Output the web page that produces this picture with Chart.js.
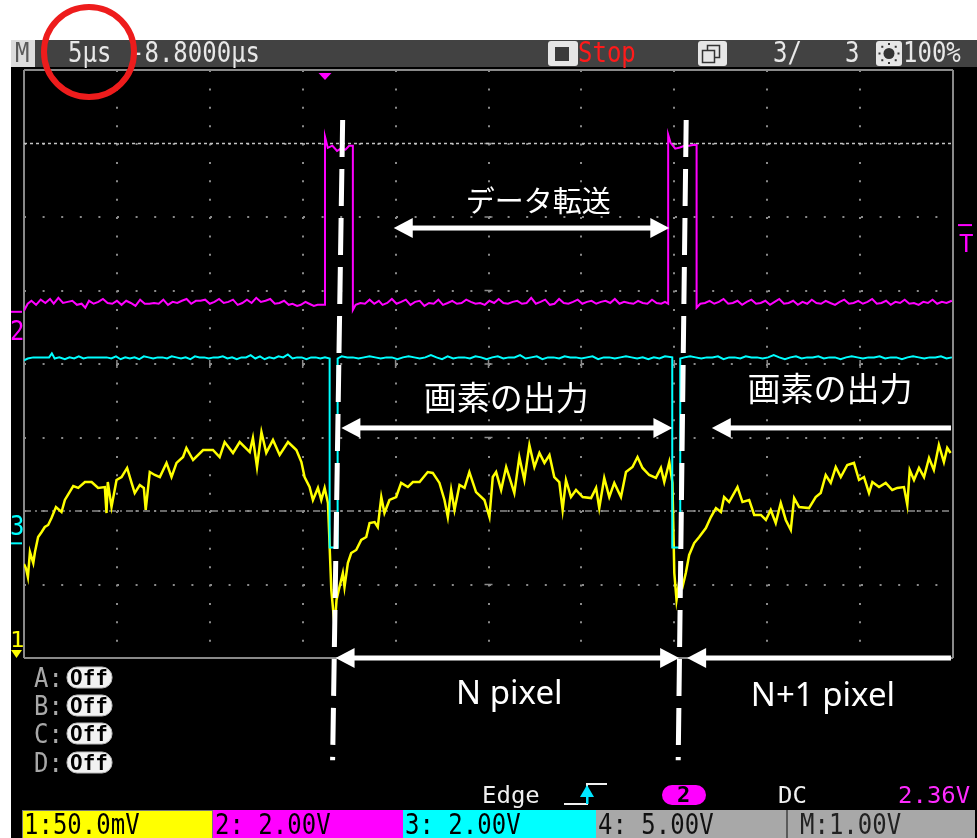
<!DOCTYPE html>
<html>
<head>
<meta charset="utf-8">
<title>画素の出力タイミング</title>
<script src="https://cdn.jsdelivr.net/npm/chart.js@4/dist/chart.umd.min.js"></script>
<style>
  html, body { margin: 0; padding: 0; background: #fff; }
  canvas { display: block; }
</style>
</head>
<body>
<canvas id="scope" width="977" height="838"></canvas>
<script>
// ---- Acquisition settings ----
const TIME_PER_DIV_US = 5;
const H_DIVS = 10;
const V_DIVS = 8;
const CENTER_TIME_US = 8.8;          // screen centre, relative to trigger (delay -8.8 µs)
const TRIG_LEVEL_V = 2.36;

// Channel scale and ground position (divisions from screen centre)
const CH1_MV_PER_DIV = 50;  const CH1_POS_DIV = -4.0;
const CH2_V_PER_DIV = 2;    const CH2_POS_DIV = 0.71;
const CH3_V_PER_DIV = 2;    const CH3_POS_DIV = -2.44;

// Cursor levels (divisions)
const LEVEL_DOTTED_DIV = 3;
const LEVEL_DASHDOT_DIV = -2;

// CH1: pixel output [time µs, mV]
const ch1Samples = [
  [-16.20,63.9],[-16.10,61.2],[-15.99,55.1],[-15.88,72.1],[-15.70,64.6],[-15.61,72.1],[-15.44,82.3],[-15.25,85.7],
  [-15.08,89.1],[-14.90,90.5],[-14.72,95.2],[-14.48,102.7],[-14.18,99.3],[-14.00,107.5],[-13.55,117.0],[-13.28,115.7],
  [-12.92,119.7],[-12.56,119.7],[-12.21,115.7],[-11.85,116.3],[-11.76,98.6],[-11.69,119.7],[-11.49,102.7],[-11.22,121.1],
  [-10.95,123.1],[-10.65,129.3],[-10.41,119.1],[-10.24,112.2],[-9.97,117.7],[-9.75,115.7],[-9.65,100.7],[-9.43,126.5],
  [-9.16,124.5],[-8.89,123.1],[-8.53,132.7],[-8.26,123.1],[-7.99,132.7],[-7.64,136.7],[-7.46,142.9],[-7.10,134.7],
  [-6.56,141.5],[-6.03,141.5],[-5.67,136.7],[-5.40,146.9],[-4.95,139.5],[-4.59,146.9],[-4.05,140.1],[-3.88,149.7],
  [-3.66,129.9],[-3.42,153.7],[-3.16,139.5],[-2.80,148.3],[-2.44,138.1],[-1.99,146.9],[-1.54,141.5],[-1.27,133.3],
  [-1.10,123.1],[-0.83,116.3],[-0.65,107.5],[-0.38,115.7],[-0.20,107.5],[-0.02,115.7],[0.16,105.4],[0.34,46.3],
  [0.52,21.1],[0.62,39.5],[0.78,48.3],[0.96,57.8],[1.05,48.3],[1.23,64.6],[1.41,71.4],[1.68,73.5],
  [1.95,80.3],[2.22,82.3],[2.40,91.8],[2.67,92.5],[2.84,89.1],[3.03,109.5],[3.20,98.6],[3.47,107.5],
  [3.83,109.5],[4.10,119.1],[4.46,116.3],[4.73,119.7],[5.09,119.7],[5.53,126.5],[5.80,125.9],[6.16,119.1],
  [6.43,107.5],[6.61,95.9],[6.79,114.3],[6.97,100.7],[7.24,117.7],[7.51,115.7],[7.77,126.5],[8.13,112.9],
  [8.58,107.5],[8.85,95.9],[9.03,123.1],[9.21,126.5],[9.48,114.3],[9.75,129.9],[10.02,119.1],[10.19,112.2],
  [10.46,136.7],[10.73,121.1],[11.00,144.9],[11.27,129.9],[11.54,139.5],[11.81,132.7],[12.08,138.1],[12.34,123.1],
  [12.61,119.7],[12.79,100.7],[12.97,121.1],[13.24,109.5],[13.51,114.3],[13.87,109.5],[14.32,108.8],[14.59,115.7],
  [14.76,102.0],[15.03,122.5],[15.30,109.5],[15.57,119.1],[15.93,109.5],[16.20,126.5],[16.55,129.9],[16.82,136.7],
  [17.09,129.3],[17.45,124.5],[17.81,122.5],[18.08,129.3],[18.26,119.7],[18.53,133.3],[18.70,119.1],[18.80,57.8],
  [18.92,39.5],[19.06,51.7],[19.24,48.3],[19.42,57.8],[19.60,70.1],[19.87,78.2],[20.14,82.3],[20.50,88.4],
  [20.77,95.9],[21.04,102.0],[21.31,99.3],[21.48,109.5],[21.75,106.1],[22.20,116.3],[22.47,106.1],[22.83,107.5],
  [23.10,97.3],[23.46,97.3],[23.73,93.9],[23.99,100.7],[24.26,91.8],[24.53,105.4],[24.80,93.9],[25.07,87.1],
  [25.25,108.8],[25.52,102.7],[26.05,102.0],[26.41,109.5],[26.68,112.2],[26.95,124.5],[27.22,119.1],[27.49,129.9],
  [27.76,123.1],[28.11,131.3],[28.47,132.7],[28.74,121.1],[29.01,123.1],[29.28,112.2],[29.46,119.7],[29.82,116.3],
  [30.18,119.1],[30.53,114.3],[30.80,115.7],[31.16,116.3],[31.34,104.1],[31.47,127.9],[31.70,121.1],[31.97,129.3],
  [32.24,123.1],[32.51,136.1],[32.77,127.9],[33.04,144.9],[33.31,133.3],[33.49,142.9],[33.67,139.5]
];

// CH2: transfer clock [time µs, V]
const ch2Samples = [
  [-16.20,0.03],[-16.00,0.22],[-15.80,0.30],[-15.55,0.19],[-15.30,0.33],[-15.05,0.24],[-14.80,0.35],[-14.60,0.22],
  [-14.35,0.38],[-14.10,0.24],[-13.85,0.27],[-13.60,0.30],[-13.35,0.19],[-13.10,0.22],[-12.90,0.11],[-12.70,0.30],
  [-12.45,0.22],[-12.20,0.27],[-11.95,0.35],[-11.70,0.24],[-11.45,0.22],[-11.20,0.30],[-10.95,0.19],[-10.70,0.30],
  [-10.45,0.24],[-10.20,0.16],[-9.95,0.33],[-9.70,0.22],[-9.45,0.22],[-9.20,0.24],[-8.95,0.22],[-8.70,0.33],
  [-8.45,0.19],[-8.20,0.27],[-7.95,0.24],[-7.70,0.30],[-7.45,0.35],[-7.20,0.22],[-6.95,0.30],[-6.70,0.30],
  [-6.45,0.33],[-6.20,0.22],[-5.95,0.27],[-5.70,0.35],[-5.45,0.24],[-5.20,0.27],[-4.95,0.33],[-4.70,0.19],
  [-4.45,0.24],[-4.20,0.33],[-3.95,0.24],[-3.70,0.38],[-3.45,0.27],[-3.20,0.30],[-2.95,0.35],[-2.70,0.22],
  [-2.45,0.24],[-2.20,0.30],[-1.95,0.19],[-1.75,0.22],[-1.50,0.16],[-1.30,0.19],[-1.05,0.27],[-0.85,0.22],
  [-0.60,0.16],[-0.40,0.19],[-0.20,0.19],[0.00,0.19],
  [0.00,4.77],[0.15,4.46],[0.40,4.52],[0.65,4.38],[0.85,4.44],[1.10,4.41],[1.30,4.52],[1.50,4.52],[1.50,0.05],
  [1.65,0.19],[1.90,0.24],[2.15,0.22],[2.40,0.33],[2.65,0.22],[2.90,0.30],[3.10,0.19],[3.35,0.24],
  [3.60,0.35],[3.85,0.22],[4.10,0.27],[4.35,0.33],[4.60,0.19],[4.85,0.27],[5.10,0.30],[5.35,0.16],
  [5.60,0.24],[5.85,0.22],[6.10,0.33],[6.35,0.19],[6.60,0.24],[6.85,0.30],[7.10,0.22],[7.35,0.24],
  [7.60,0.33],[7.85,0.27],[8.10,0.22],[8.35,0.24],[8.60,0.19],[8.85,0.30],[9.10,0.24],[9.35,0.35],
  [9.60,0.24],[9.85,0.22],[10.10,0.27],[10.35,0.30],[10.60,0.22],[10.85,0.24],[11.10,0.38],[11.35,0.22],
  [11.60,0.27],[11.85,0.33],[12.10,0.19],[12.35,0.22],[12.60,0.35],[12.85,0.24],[13.10,0.22],[13.35,0.27],
  [13.60,0.33],[13.85,0.22],[14.10,0.27],[14.35,0.30],[14.60,0.22],[14.85,0.27],[15.10,0.30],[15.35,0.24],
  [15.60,0.35],[15.85,0.22],[16.10,0.27],[16.35,0.24],[16.60,0.22],[16.85,0.30],[17.10,0.24],[17.35,0.22],
  [17.60,0.33],[17.85,0.24],[18.10,0.22],[18.30,0.27],[18.47,0.22],
  [18.47,4.82],[18.60,4.60],[18.85,4.44],[19.10,4.47],[19.35,4.52],[19.60,4.52],[19.80,4.54],[20.00,4.54],[20.00,0.11],
  [20.20,0.22],[20.45,0.24],[20.70,0.30],[20.95,0.22],[21.20,0.27],[21.45,0.35],[21.70,0.22],[21.95,0.24],
  [22.20,0.30],[22.45,0.19],[22.70,0.27],[22.95,0.33],[23.20,0.22],[23.45,0.24],[23.70,0.30],[23.95,0.19],
  [24.20,0.27],[24.45,0.35],[24.70,0.22],[24.95,0.24],[25.20,0.30],[25.45,0.19],[25.70,0.27],[25.95,0.22],
  [26.20,0.33],[26.45,0.24],[26.70,0.22],[26.95,0.30],[27.20,0.24],[27.45,0.19],[27.70,0.27],[27.95,0.33],
  [28.20,0.22],[28.45,0.24],[28.70,0.30],[28.95,0.22],[29.20,0.27],[29.45,0.35],[29.70,0.22],[29.95,0.24],
  [30.20,0.30],[30.45,0.19],[30.70,0.27],[30.95,0.24],[31.20,0.33],[31.45,0.22],[31.70,0.24],[31.95,0.19],
  [32.20,0.27],[32.45,0.24],[32.70,0.33],[32.95,0.22],[33.20,0.27],[33.45,0.24],[33.74,0.30]
];

// CH3: pixel select strobe [time µs, V]
const ch3Samples = [
  [-16.20,4.98],[-16.00,5.03],[-15.70,5.06],[-15.40,5.06],[-15.10,5.06],[-14.85,5.06],[-14.70,5.17],[-14.55,5.03],
  [-14.30,5.06],[-14.00,5.01],[-13.75,5.06],[-13.50,5.03],[-13.25,5.09],[-13.00,5.03],[-12.75,5.06],[-12.50,5.06],
  [-12.25,5.06],[-12.00,5.06],[-11.75,5.06],[-11.50,5.03],[-11.25,5.09],[-11.00,5.01],[-10.75,5.06],[-10.50,5.03],
  [-10.25,5.06],[-10.00,5.01],[-9.75,5.09],[-9.50,5.06],[-9.25,5.03],[-9.00,5.06],[-8.75,5.06],[-8.50,5.03],
  [-8.25,5.09],[-8.00,5.06],[-7.75,5.03],[-7.50,5.06],[-7.25,5.01],[-7.00,5.09],[-6.75,5.06],[-6.50,5.06],
  [-6.25,5.03],[-6.00,5.06],[-5.75,5.06],[-5.50,5.09],[-5.25,5.03],[-5.00,5.06],[-4.75,5.01],[-4.50,5.06],
  [-4.25,5.06],[-4.00,5.12],[-3.75,5.03],[-3.50,5.09],[-3.25,5.01],[-3.00,5.06],[-2.75,5.03],[-2.50,5.09],
  [-2.25,5.06],[-2.00,5.14],[-1.75,5.03],[-1.50,5.06],[-1.25,5.06],[-1.00,5.01],[-0.75,5.06],[-0.50,5.06],
  [-0.25,5.03],[0.00,5.06],[0.25,5.03],
  [0.25,-0.11],[0.68,-0.11],[0.68,5.03],
  [0.90,5.09],[1.20,5.06],[1.50,5.06],[1.80,5.03],[2.10,5.06],[2.40,5.09],[2.70,5.06],[3.00,5.03],
  [3.30,5.06],[3.60,5.06],[3.90,5.01],[4.20,5.06],[4.50,5.09],[4.80,5.06],[5.10,5.03],[5.40,5.06],
  [5.70,5.12],[6.00,5.06],[6.30,5.01],[6.60,5.09],[6.90,5.03],[7.20,5.06],[7.50,5.06],[7.80,5.03],
  [8.10,5.09],[8.40,5.06],[8.70,5.01],[9.00,5.06],[9.30,5.09],[9.60,5.03],[9.90,5.06],[10.20,5.06],
  [10.50,5.12],[10.80,5.03],[11.10,5.06],[11.40,5.09],[11.70,5.01],[12.00,5.06],[12.30,5.06],[12.60,5.03],
  [12.90,5.09],[13.20,5.06],[13.50,5.06],[13.80,5.03],[14.10,5.06],[14.40,5.09],[14.70,5.01],[15.00,5.06],
  [15.30,5.06],[15.60,5.03],[15.90,5.06],[16.20,5.09],[16.50,5.06],[16.80,5.03],[17.10,5.06],[17.40,5.01],
  [17.70,5.06],[18.00,5.03],[18.30,5.09],[18.69,5.06],
  [18.69,-0.11],[19.12,-0.11],[19.12,5.03],
  [19.35,5.06],[19.65,5.09],[19.95,5.06],[20.25,5.03],[20.55,5.06],[20.85,5.06],[21.15,5.09],[21.45,5.01],
  [21.75,5.06],[22.05,5.06],[22.35,5.03],[22.65,5.09],[22.95,5.06],[23.25,5.06],[23.55,5.03],[23.85,5.06],
  [24.15,5.12],[24.45,5.06],[24.75,5.01],[25.05,5.06],[25.35,5.09],[25.65,5.03],[25.95,5.06],[26.25,5.06],
  [26.55,5.09],[26.85,5.03],[27.15,5.06],[27.45,5.06],[27.75,5.01],[28.05,5.06],[28.35,5.09],[28.65,5.06],
  [28.95,5.03],[29.25,5.06],[29.55,5.06],[29.85,5.09],[30.15,5.03],[30.45,5.06],[30.75,5.06],[31.05,5.01],
  [31.35,5.06],[31.65,5.09],[31.95,5.06],[32.25,5.03],[32.55,5.06],[32.85,5.06],[33.15,5.09],[33.45,5.03],[33.74,5.06]
];

// Pixel boundary markers: time at top and bottom of each dashed line (µs)
const boundaryTopTimes = [0.95, 19.44];
const boundaryBottomTimes = [0.41, 19.01];
const BOUNDARY_TOP_DIV = 3.32;
const BOUNDARY_BOTTOM_DIV = -5.39;

// Span arrows: start/end time (µs), level (div), heads at [start, end]
const arrowFrom  = [3.70, 0.88, 33.69, 0.57, 33.69];
const arrowTo    = [18.53, 18.70, 20.82, 19.06, 19.49];
const arrowLevel = [1.85, -0.87, -0.87, -4.0, -4.0];
const arrowHeads = [[true, true], [true, true], [false, true], [true, true], [false, true]];

// Span labels
const labelTexts  = ['データ転送', '画素の出力', '画素の出力', 'N pixel', 'N+1 pixel'];
const labelTimes  = [11.48, 9.76, 27.18, 9.92, 26.80];
const labelLevels = [2.22, -0.45, -0.33, -4.50, -4.53];

// ---- derived axis ranges ----
const X_MIN = CENTER_TIME_US - TIME_PER_DIV_US * H_DIVS / 2;
const X_MAX = CENTER_TIME_US + TIME_PER_DIV_US * H_DIVS / 2;
const gridTimes = Array.from({ length: H_DIVS + 1 }, (_, k) => X_MIN + k * TIME_PER_DIV_US);
const majorDivs = Array.from({ length: V_DIVS - 1 }, (_, k) => k - (V_DIVS / 2 - 1));

function channelAxis(posDiv, perDiv) {
  return {
    type: 'linear', display: false,
    min: (-V_DIVS / 2 - posDiv) * perDiv,
    max: (V_DIVS / 2 - posDiv) * perDiv
  };
}

function trace(samples, color, axis, width) {
  return {
    data: samples.map(([t, v]) => ({ x: t, y: v })),
    borderColor: color, borderWidth: width, pointRadius: 0,
    tension: 0, fill: false, xAxisID: 'x', yAxisID: axis
  };
}

function levelLine(div, color, dash, width) {
  return {
    data: [{ x: X_MIN, y: div }, { x: X_MAX, y: div }],
    borderColor: color, borderWidth: width, borderDash: dash,
    pointRadius: 0, fill: false, xAxisID: 'x', yAxisID: 'y'
  };
}

const GRID_GRAY = '#8a8a8a';

// ---- scope screen furniture ----
function monoText(ctx, str, x, base, color, sy, size, weight) {
  ctx.save();
  ctx.translate(x, base);
  ctx.scale(1, sy || 1.15);
  ctx.font = (weight || '') + ' ' + (size || 24) + 'px "DejaVu Sans Mono"';
  ctx.fillStyle = color;
  ctx.textAlign = 'left';
  ctx.textBaseline = 'alphabetic';
  ctx.fillText(str, 0, 0);
  ctx.restore();
}

function roundRect(ctx, x, y, w, h, r, fill, stroke) {
  ctx.beginPath();
  ctx.moveTo(x + r, y);
  ctx.arcTo(x + w, y, x + w, y + h, r);
  ctx.arcTo(x + w, y + h, x, y + h, r);
  ctx.arcTo(x, y + h, x, y, r);
  ctx.arcTo(x, y, x + w, y, r);
  ctx.closePath();
  if (fill) { ctx.fillStyle = fill; ctx.fill(); }
  if (stroke) { ctx.strokeStyle = stroke; ctx.lineWidth = 1; ctx.stroke(); }
}

const scopeChrome = {
  id: 'scopeChrome',
  beforeDraw(chart) {
    const ctx = chart.ctx;
    ctx.save();
    ctx.fillStyle = '#ffffff';
    ctx.fillRect(0, 0, chart.width, chart.height);
    ctx.fillStyle = '#000000';
    ctx.fillRect(11, 67, chart.width - 11, chart.height - 67);

    // status bar
    ctx.fillStyle = '#424242';
    ctx.fillRect(11, 40, chart.width - 11, 27);
    ctx.fillStyle = '#dcdcdc';
    ctx.fillRect(11, 40, 24, 27);
    monoText(ctx, 'M', 15, 62, '#5a5a5a', 1.1);
    monoText(ctx, '5µs', 68, 62, '#e8e8e8', 1.15);
    monoText(ctx, '-8.8000µs', 130, 62, '#e8e8e8', 1.15);

    roundRect(ctx, 548, 41, 30, 25, 3, '#e6e6e6');
    ctx.fillStyle = '#3a3a3a';
    ctx.fillRect(555, 47, 14, 14);
    monoText(ctx, 'Stop', 578, 62, '#ff1a1a', 1.15);

    roundRect(ctx, 698, 41, 29, 25, 3, '#e6e6e6');
    ctx.strokeStyle = '#333';
    ctx.lineWidth = 1.5;
    ctx.strokeRect(707.5, 45.5, 12, 12);
    ctx.fillStyle = '#e6e6e6';
    ctx.fillRect(702, 50, 12, 12);
    ctx.strokeRect(702.5, 50.5, 12, 12);

    monoText(ctx, '3/', 773, 62, '#e8e8e8', 1.15);
    monoText(ctx, '3', 845, 62, '#e8e8e8', 1.15);

    roundRect(ctx, 876, 41, 26, 25, 3, '#e6e6e6');
    ctx.fillStyle = '#333';
    ctx.beginPath(); ctx.arc(889, 53.5, 5.5, 0, Math.PI * 2); ctx.fill();
    for (let k = 0; k < 8; k++) {
      const a = k * Math.PI / 4;
      ctx.fillRect(889 + Math.cos(a) * 9.5 - 1, 53.5 + Math.sin(a) * 9.5 - 1, 2, 2);
    }
    monoText(ctx, '100%', 903, 62, '#e8e8e8', 1.15);

    // math/ref channels
    const rows = [667, 695, 723, 752];
    ['A', 'B', 'C', 'D'].forEach((c, i) => {
      monoText(ctx, c + ':', 34, rows[i] + 20, '#a8a8a8', 1.1);
      roundRect(ctx, 67, rows[i], 45, 21, 10, '#f2f2f2', '#bbbbbb');
      monoText(ctx, 'Off', 70, rows[i] + 18, '#000000', 1.0, 21, 'bold');
    });

    // trigger line
    monoText(ctx, 'Edge', 482, 803, '#f0f0f0', 0.95);
    ctx.strokeStyle = '#f0f0f0';
    ctx.lineWidth = 2;
    ctx.beginPath();
    ctx.moveTo(564, 804); ctx.lineTo(587, 804); ctx.lineTo(587, 784); ctx.lineTo(607, 784);
    ctx.stroke();
    ctx.fillStyle = '#00e5ff';
    ctx.beginPath(); ctx.moveTo(587, 785); ctx.lineTo(580, 797); ctx.lineTo(594, 797); ctx.closePath(); ctx.fill();
    ctx.fillRect(586, 796, 2.5, 8);
    roundRect(ctx, 662, 785, 44, 20, 10, '#ff00ff');
    monoText(ctx, '2', 677, 802, '#000000', 0.95, 22, 'bold');
    monoText(ctx, 'DC', 778, 803, '#f0f0f0', 0.95);
    monoText(ctx, '2.36V', 898, 803, '#ff2bff', 0.95);

    // channel scale boxes
    const boxes = [
      [22, 213, '#ffff00', '1:50.0mV', '#000'],
      [213, 403, '#ff00ff', '2: 2.00V', '#000'],
      [403, 596, '#00ffff', '3: 2.00V', '#000'],
      [596, 786, '#a8a8a8', '4: 5.00V', '#111'],
      [788, 975, '#a8a8a8', 'M:1.00V', '#222']
    ];
    boxes.forEach(([x0, x1, bg, txt, fg]) => {
      ctx.fillStyle = bg;
      ctx.fillRect(x0, 810, x1 - x0, 28);
      monoText(ctx, txt, x0 + 2 + (txt[0] === 'M' ? 10 : 0), 834, fg, 1.2);
    });
    ctx.strokeStyle = '#777';
    ctx.lineWidth = 1;
    ctx.strokeRect(22.5, 810.5, 190, 28);
    ctx.fillStyle = '#5a5a5a';
    ctx.fillRect(786, 810, 2, 28);
    ctx.restore();
  },

  afterDatasetsDraw(chart) {
    const ctx = chart.ctx;
    const xs = chart.scales.x, ys = chart.scales.y;
    const area = chart.chartArea;
    ctx.save();

    // channel ground markers
    const g2 = chart.scales.y2.getPixelForValue(0);
    const g3 = chart.scales.y3.getPixelForValue(0);
    const g1 = Math.min(chart.scales.y1.getPixelForValue(0), area.bottom);
    ctx.fillStyle = '#ff00ff';
    ctx.fillRect(11, g2 - 1, 11, 2);
    monoText(ctx, '2', 10, g2 + 28, '#ff00ff', 1.1);
    ctx.fillStyle = '#00ffff';
    ctx.fillRect(11, g3 - 1, 11, 2);
    monoText(ctx, '3', 10, g3 - 8, '#00ffff', 1.1);
    monoText(ctx, '1', 10, g1 - 11, '#ffff00', 0.85);
    ctx.fillStyle = '#ffff00';
    ctx.beginPath(); ctx.moveTo(11, g1 - 8); ctx.lineTo(22, g1 - 8); ctx.lineTo(16.5, g1); ctx.closePath(); ctx.fill();

    // trigger level and trigger position
    const trigY = chart.scales.y2.getPixelForValue(TRIG_LEVEL_V);
    ctx.fillStyle = '#ff00ff';
    ctx.fillRect(958, trigY - 1, 14, 2);
    monoText(ctx, 'T', 959, trigY + 27, '#ff00ff', 1.05);
    const trigX = xs.getPixelForValue(0);
    ctx.beginPath();
    ctx.moveTo(trigX - 6.5, area.top + 3); ctx.lineTo(trigX + 6.5, area.top + 3); ctx.lineTo(trigX, area.top + 10);
    ctx.closePath(); ctx.fill();

    // pixel boundary dashed lines
    ctx.strokeStyle = '#ffffff';
    ctx.lineWidth = 5;
    ctx.setLineDash([37, 12]);
    boundaryTopTimes.forEach((t0, i) => {
      ctx.beginPath();
      ctx.moveTo(xs.getPixelForValue(t0), ys.getPixelForValue(BOUNDARY_TOP_DIV));
      ctx.lineTo(xs.getPixelForValue(boundaryBottomTimes[i]), ys.getPixelForValue(BOUNDARY_BOTTOM_DIV));
      ctx.stroke();
    });
    ctx.setLineDash([]);

    // span arrows
    const L = 19, H = 10, W = 5;
    ctx.fillStyle = '#ffffff';
    const head = (tipX, y, d) => {
      ctx.beginPath();
      ctx.moveTo(tipX, y);
      ctx.lineTo(tipX - d * L, y - H);
      ctx.lineTo(tipX - d * L, y + H);
      ctx.closePath();
      ctx.fill();
    };
    arrowFrom.forEach((t0, i) => {
      const x0 = xs.getPixelForValue(t0), x1 = xs.getPixelForValue(arrowTo[i]);
      const y = ys.getPixelForValue(arrowLevel[i]);
      const d = Math.sign(x1 - x0);
      const [h0, h1] = arrowHeads[i];
      const s0 = h0 ? x0 + d * (L - 2) : x0;
      const s1 = h1 ? x1 - d * (L - 2) : x1;
      ctx.fillRect(Math.min(s0, s1), y - W / 2, Math.abs(s1 - s0), W);
      if (h0) head(x0, y, -d);
      if (h1) head(x1, y, d);
    });

    // span labels
    ctx.fillStyle = '#ffffff';
    ctx.textAlign = 'center';
    ctx.textBaseline = 'middle';
    labelTexts.forEach((txt, i) => {
      const latin = /^[ -~]+$/.test(txt);
      ctx.font = latin ? '33px "Noto Sans"' : (i === 0 ? '29px' : '33px') + ' "Noto Sans CJK JP"';
      ctx.fillText(txt, xs.getPixelForValue(labelTimes[i]), ys.getPixelForValue(labelLevels[i]));
    });
    ctx.restore();
  },

  afterDraw(chart) {
    // highlighted timebase readout
    const ctx = chart.ctx;
    ctx.save();
    ctx.strokeStyle = '#ee1c1c';
    ctx.lineWidth = 6;
    ctx.beginPath();
    ctx.arc(89, 52, 45, 0, Math.PI * 2);
    ctx.stroke();
    ctx.restore();
  }
};

const crossTicksH = majorDivs.map(d => ({ x: CENTER_TIME_US, y: d }));
const crossTicksV = gridTimes.slice(1, -1).map(t => ({ x: t, y: 0 }));

new Chart(document.getElementById('scope'), {
  type: 'line',
  data: {
    datasets: [
      trace(ch3Samples, '#00ffff', 'y3', 2),
      trace(ch2Samples, '#ff00ff', 'y2', 2),
      trace(ch1Samples, '#ffff00', 'y1', 2.5),
      levelLine(LEVEL_DOTTED_DIV, '#c4c4c4', [3, 3], 1.5),
      levelLine(LEVEL_DASHDOT_DIV, '#8c8c8c', [7, 4, 2, 4], 1.5),
      { data: crossTicksH, showLine: false, pointStyle: 'line', pointRadius: 4,
        pointBorderColor: GRID_GRAY, pointBorderWidth: 1.5, xAxisID: 'x', yAxisID: 'y' },
      { data: crossTicksV, showLine: false, pointStyle: 'line', pointRadius: 4, pointRotation: 90,
        pointBorderColor: GRID_GRAY, pointBorderWidth: 1.5, xAxisID: 'x', yAxisID: 'y' }
    ]
  },
  options: {
    responsive: false,
    animation: false,
    events: [],
    devicePixelRatio: 1,
    layout: { padding: { left: 24, top: 70, right: 24, bottom: 180 } },
    plugins: { legend: { display: false }, tooltip: { enabled: false } },
    scales: {
      x: {
        type: 'linear', min: X_MIN, max: X_MAX,
        afterBuildTicks: s => { s.ticks = gridTimes.map(v => ({ value: v })); },
        ticks: { display: false },
        grid: { drawTicks: false, color: GRID_GRAY, lineWidth: 2 },
        border: {
          display: false,
          dash: c => (c.index === 0 || c.index === H_DIVS) ? [] : [2, 16.375]
        }
      },
      y: {
        type: 'linear', min: -V_DIVS / 2, max: V_DIVS / 2,
        ticks: { display: false, stepSize: 1 },
        grid: { drawTicks: false, color: GRID_GRAY, lineWidth: 2 },
        border: {
          display: false,
          dash: c => (c.index === 0 || c.index === V_DIVS) ? [] : [2, 16.6]
        }
      },
      y1: channelAxis(CH1_POS_DIV, CH1_MV_PER_DIV),
      y2: channelAxis(CH2_POS_DIV, CH2_V_PER_DIV),
      y3: channelAxis(CH3_POS_DIV, CH3_V_PER_DIV)
    }
  },
  plugins: [scopeChrome]
});
</script>
</body>
</html>
